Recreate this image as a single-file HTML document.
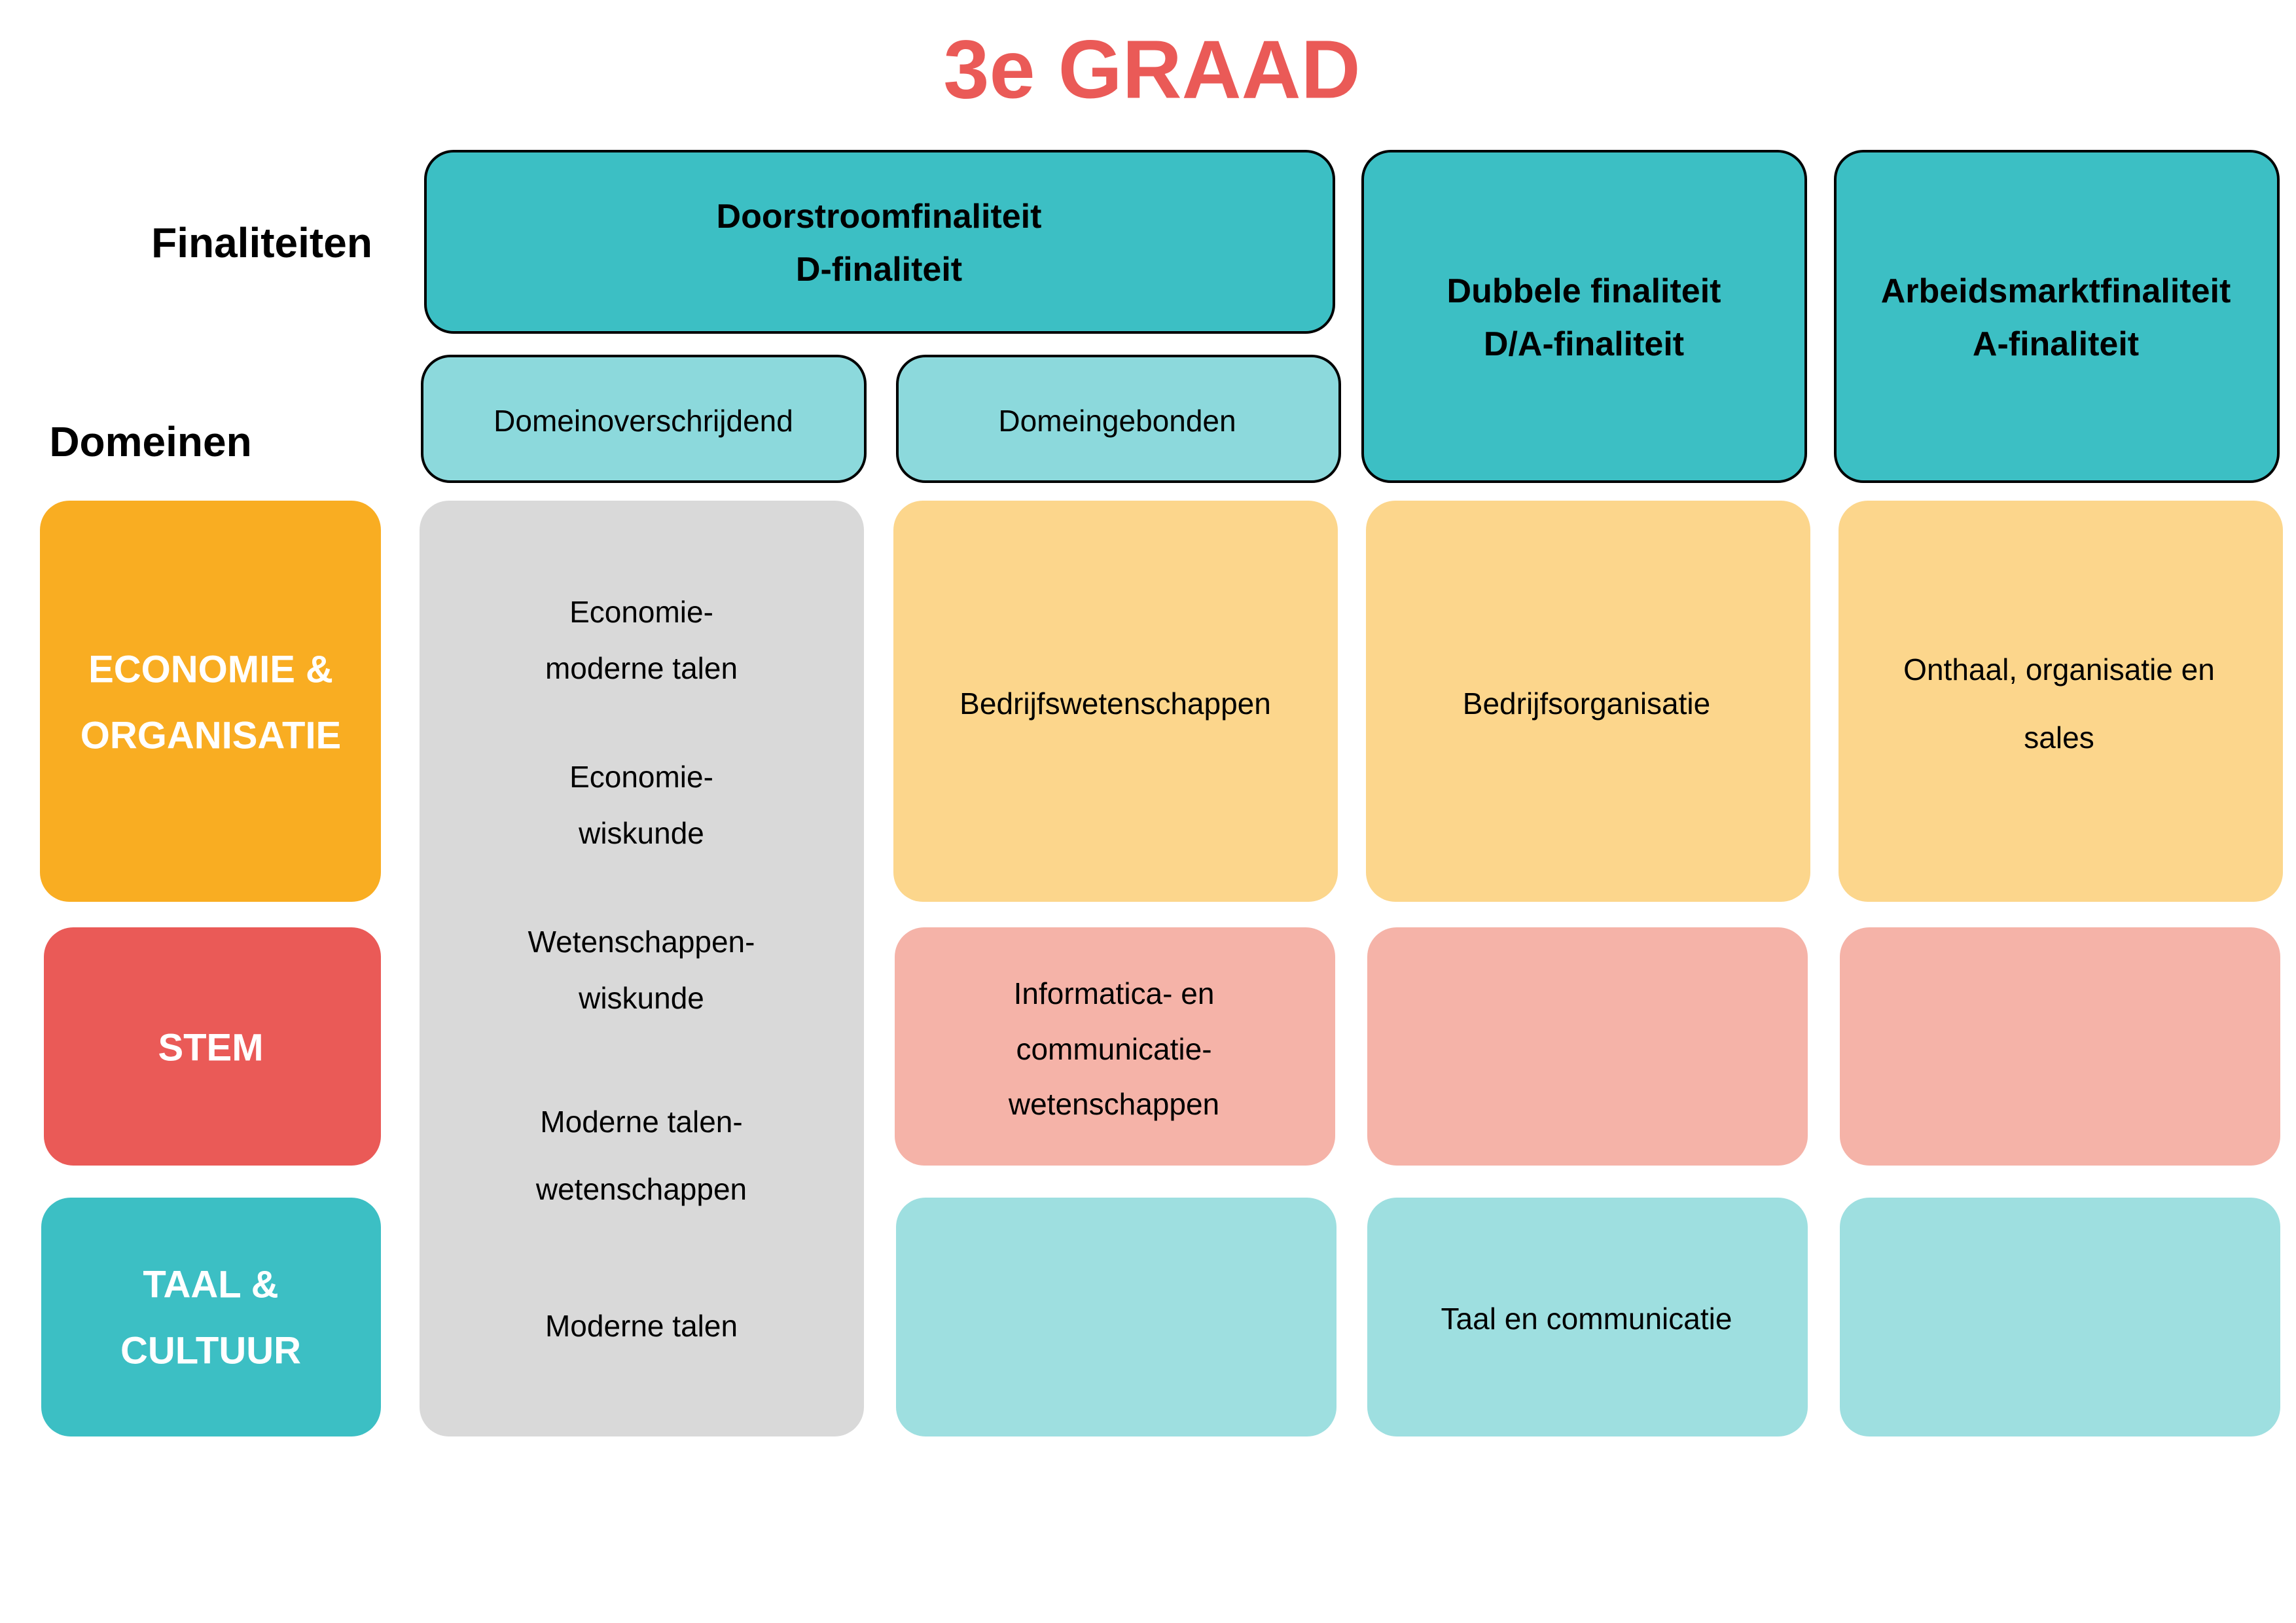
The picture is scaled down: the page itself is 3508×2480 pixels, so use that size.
<!DOCTYPE html>
<html><head><meta charset="utf-8"><style>
html,body{margin:0;padding:0;background:#fff}
body{width:3508px;height:2480px;position:relative;overflow:hidden;font-family:"Liberation Sans",sans-serif}
.b{position:absolute;box-sizing:border-box;border-radius:45px}
.k{border:4px solid #000}
.t{position:absolute;transform:translate(-50%,-50%);white-space:nowrap;color:#000}
.h{font-weight:bold;font-size:52px}
.c{font-size:46px}
.w{font-weight:bold;font-size:58px;color:#fff}
</style></head><body>
<div class="t" style="left:1760px;top:106px;font-size:126px;font-weight:bold;color:#EA5A57">3e GRAAD</div>

<div class="t h" style="left:400px;top:371px;font-size:64px">Finaliteiten</div>
<div class="t h" style="left:230px;top:675px;font-size:64px">Domeinen</div>

<div class="b k" style="left:648px;top:229px;width:1392px;height:281px;background:#3CBFC4"></div>
<div class="b k" style="left:2080px;top:229px;width:681px;height:509px;background:#3CBFC4"></div>
<div class="b k" style="left:2802px;top:229px;width:681px;height:509px;background:#3CBFC4"></div>
<div class="b k" style="left:643px;top:542px;width:681px;height:196px;background:#8CD9DC"></div>
<div class="b k" style="left:1369px;top:542px;width:680px;height:196px;background:#8CD9DC"></div>

<div class="t h" style="left:1343px;top:331px">Doorstroomfinaliteit</div>
<div class="t h" style="left:1343px;top:412px">D-finaliteit</div>
<div class="t h" style="left:2420px;top:445px">Dubbele finaliteit</div>
<div class="t h" style="left:2420px;top:526px">D/A-finaliteit</div>
<div class="t h" style="left:3141px;top:445px">Arbeidsmarktfinaliteit</div>
<div class="t h" style="left:3141px;top:526px">A-finaliteit</div>
<div class="t c" style="left:983px;top:643px">Domeinoverschrijdend</div>
<div class="t c" style="left:1707px;top:643px">Domeingebonden</div>

<div class="b" style="left:61px;top:765px;width:521px;height:613px;background:#F9AD22"></div>
<div class="b" style="left:641px;top:765px;width:679px;height:1430px;background:#D9D9D9"></div>
<div class="b" style="left:1365px;top:765px;width:679px;height:613px;background:#FCD68C"></div>
<div class="b" style="left:2087px;top:765px;width:679px;height:613px;background:#FCD68C"></div>
<div class="b" style="left:2809px;top:765px;width:679px;height:613px;background:#FCD68C"></div>
<div class="b" style="left:67px;top:1417px;width:515px;height:364px;background:#EA5A57"></div>
<div class="b" style="left:1367px;top:1417px;width:673px;height:364px;background:#F5B3A8"></div>
<div class="b" style="left:2089px;top:1417px;width:673px;height:364px;background:#F5B3A8"></div>
<div class="b" style="left:2811px;top:1417px;width:673px;height:364px;background:#F5B3A8"></div>
<div class="b" style="left:63px;top:1830px;width:519px;height:365px;background:#3CBFC4"></div>
<div class="b" style="left:1369px;top:1830px;width:673px;height:365px;background:#9EDFE0"></div>
<div class="b" style="left:2089px;top:1830px;width:673px;height:365px;background:#9EDFE0"></div>
<div class="b" style="left:2811px;top:1830px;width:673px;height:365px;background:#9EDFE0"></div>

<div class="t w" style="left:322px;top:1023px">ECONOMIE &amp;</div>
<div class="t w" style="left:322px;top:1124px">ORGANISATIE</div>
<div class="t w" style="left:322px;top:1601px">STEM</div>
<div class="t w" style="left:322px;top:1963px">TAAL &amp;</div>
<div class="t w" style="left:322px;top:2064px">CULTUUR</div>

<div class="t c" style="left:980px;top:935px">Economie-</div>
<div class="t c" style="left:980px;top:1021px">moderne talen</div>
<div class="t c" style="left:980px;top:1187px">Economie-</div>
<div class="t c" style="left:980px;top:1273px">wiskunde</div>
<div class="t c" style="left:980px;top:1439px">Wetenschappen-</div>
<div class="t c" style="left:980px;top:1525px">wiskunde</div>
<div class="t c" style="left:980px;top:1714px">Moderne talen-</div>
<div class="t c" style="left:980px;top:1817px">wetenschappen</div>
<div class="t c" style="left:980px;top:2026px">Moderne talen</div>

<div class="t c" style="left:1704px;top:1075px">Bedrijfswetenschappen</div>
<div class="t c" style="left:2424px;top:1075px">Bedrijfsorganisatie</div>
<div class="t c" style="left:3146px;top:1023px">Onthaal, organisatie en</div>
<div class="t c" style="left:3146px;top:1127px">sales</div>
<div class="t c" style="left:1702px;top:1518px">Informatica- en</div>
<div class="t c" style="left:1702px;top:1603px">communicatie-</div>
<div class="t c" style="left:1702px;top:1687px">wetenschappen</div>
<div class="t c" style="left:2424px;top:2015px">Taal en communicatie</div>
</body></html>
